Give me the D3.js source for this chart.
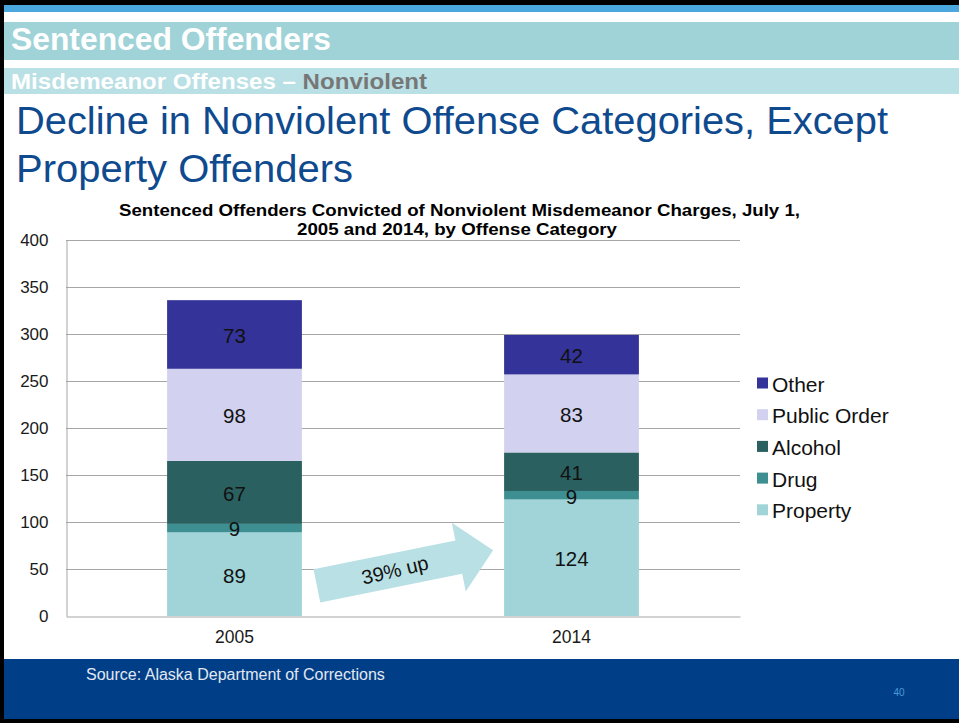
<!DOCTYPE html>
<html><head><meta charset="utf-8">
<script src="https://cdn.jsdelivr.net/npm/d3@7"></script>
<style>
html,body{margin:0;padding:0;background:#fff;}
svg{display:block;font-family:"Liberation Sans",Arial,sans-serif;}
</style></head>
<body>
<svg id="c" width="959" height="723"></svg>
<script>
const years = ["2005", "2014"];
const categories = ["Property", "Drug", "Alcohol", "Public Order", "Other"];
const property = [89, 124];
const drug = [9, 9];
const alcohol = [67, 41];
const publicOrder = [98, 83];
const other = [73, 42];
const yTicks = [0, 50, 100, 150, 200, 250, 300, 350, 400];
const colors = ["#a0d4d8", "#3d8f91", "#2a6060", "#d2d2f0", "#333399"];
const series = [property, drug, alcohol, publicOrder, other];

const svg = d3.select("#c");

// Slide decoration
svg.append("rect").attr("x",0).attr("y",0).attr("width",959).attr("height",723).attr("fill","#fff");
svg.append("rect").attr("x",0).attr("y",0).attr("width",959).attr("height",5).attr("fill","#000");
svg.append("rect").attr("x",0).attr("y",5).attr("width",959).attr("height",7).attr("fill","#4aa8df");
svg.append("rect").attr("x",0).attr("y",22).attr("width",959).attr("height",38).attr("fill","#9fd3d8");
svg.append("rect").attr("x",0).attr("y",68).attr("width",959).attr("height",26).attr("fill","#b9e0e4");
svg.append("rect").attr("x",0).attr("y",659).attr("width",959).attr("height",61).attr("fill","#003f87");
svg.append("rect").attr("x",0).attr("y",719).attr("width",959).attr("height",4).attr("fill","#000");
svg.append("rect").attr("x",0).attr("y",0).attr("width",4).attr("height",723).attr("fill","#000");

svg.append("text").attr("x",11).attr("y",50).attr("fill","#fff")
  .attr("font-weight","bold").attr("font-size",31).attr("textLength",320).attr("lengthAdjust","spacingAndGlyphs")
  .text("Sentenced Offenders");
const sub = svg.append("text").attr("x",11).attr("y",89).attr("font-weight","bold").attr("font-size",22)
  .attr("textLength",416).attr("lengthAdjust","spacingAndGlyphs");
sub.append("tspan").attr("fill","#fff").text("Misdemeanor Offenses – ");
sub.append("tspan").attr("fill","#777").text("Nonviolent");

svg.append("text").attr("x",16).attr("y",134).attr("fill","#0f4a8e").attr("font-size",38)
  .attr("textLength",872).attr("lengthAdjust","spacingAndGlyphs")
  .text("Decline in Nonviolent Offense Categories, Except");
svg.append("text").attr("x",16).attr("y",182).attr("fill","#0f4a8e").attr("font-size",38)
  .attr("textLength",337).attr("lengthAdjust","spacingAndGlyphs")
  .text("Property Offenders");

svg.append("text").attr("x",119).attr("y",215.5).attr("font-weight","bold")
  .attr("font-size",16.5).attr("fill","#000").attr("textLength",681).attr("lengthAdjust","spacingAndGlyphs")
  .text("Sentenced Offenders Convicted of Nonviolent Misdemeanor Charges, July 1,");
svg.append("text").attr("x",297).attr("y",234.5).attr("font-weight","bold")
  .attr("font-size",16.5).attr("fill","#000").attr("textLength",320).attr("lengthAdjust","spacingAndGlyphs")
  .text("2005 and 2014, by Offense Category");

// Chart
const plot = {left:66, right:740, top:240, bottom:616};
const x = d3.scaleBand().domain(years).range([plot.left, plot.right]).padding(0);
const barW = x.bandwidth() * 0.4;
const y = d3.scaleLinear().domain([0, 400]).range([plot.bottom, plot.top]);

const g = svg.append("g");
g.selectAll("line.grid").data(yTicks.filter(d => d > 0)).enter().append("line")
  .attr("x1", plot.left).attr("x2", plot.right)
  .attr("y1", d => y(d) + 0.5).attr("y2", d => y(d) + 0.5)
  .attr("stroke", "#a6a6a6").attr("stroke-width", 1);

const yAxis = g.append("g").attr("transform", `translate(${plot.left + 0.5},0)`)
  .call(d3.axisLeft(y).tickValues(yTicks).tickSize(0).tickPadding(18));
yAxis.select(".domain").attr("stroke", "#a6a6a6");
yAxis.selectAll("text").attr("font-size", 17).attr("fill", "#1a1a1a")
  .attr("font-family", "'Liberation Sans',Arial,sans-serif");

const stacked = d3.stack().keys(d3.range(categories.length))
  (years.map((yr, i) => { const o = {}; series.forEach((s, k) => o[k] = s[i]); return o; }));

stacked.forEach((layer, k) => {
  layer.forEach((seg, i) => {
    const cx = x(years[i]) + x.bandwidth() / 2;
    g.append("rect").attr("x", cx - barW / 2).attr("width", barW)
      .attr("y", y(seg[1])).attr("height", y(seg[0]) - y(seg[1]))
      .attr("fill", colors[k]);
  });
});
stacked.forEach((layer, k) => {
  layer.forEach((seg, i) => {
    const cx = x(years[i]) + x.bandwidth() / 2;
    g.append("text").attr("x", cx).attr("y", (y(seg[0]) + y(seg[1])) / 2 + 1)
      .attr("dy", "0.36em").attr("text-anchor", "middle").attr("font-size", 20.5)
      .attr("fill", "#111").text(series[k][i]);
  });
});

const xAxis = g.append("g").attr("transform", `translate(0,${plot.bottom + 0.5})`)
  .call(d3.axisBottom(x).tickSize(0).tickPadding(14));
xAxis.select(".domain").attr("stroke", "#a6a6a6");
xAxis.selectAll("text").attr("font-size", 17.5).attr("fill", "#1a1a1a")
  .attr("font-family", "'Liberation Sans',Arial,sans-serif");

// Arrow annotation
const tail = [x("2005") + x.bandwidth() / 2 + barW / 2 + 15, y(32)];
const tip = [x("2014") + x.bandwidth() / 2 - barW / 2 - 11, y(70)];
const ang = Math.atan2(tip[1] - tail[1], tip[0] - tail[0]) * 180 / Math.PI;
const L = Math.hypot(tip[0] - tail[0], tip[1] - tail[1]);
const hw = 17, hh = 35, hl = 35;
const arrowPts = [[0,-hw],[L-hl,-hw],[L-hl,-hh],[L,0],[L-hl,hh],[L-hl,hw],[0,hw]];
const ag = svg.append("g").attr("transform", `translate(${tail[0]},${tail[1]}) rotate(${ang})`);
ag.append("polygon").attr("points", arrowPts.map(p => p.join(",")).join(" ")).attr("fill", "#b9e0e4");
ag.append("text").attr("x", (L - hl) * 0.55).attr("y", 0).attr("dy", "0.35em")
  .attr("text-anchor", "middle").attr("font-size", 20).attr("fill", "#111")
  .attr("transform", `rotate(-2 ${(L - hl) * 0.55} 0)`).text("39% up");

// Legend
const legendOrder = [4, 3, 2, 1, 0];
const lg = svg.append("g");
legendOrder.forEach((k, j) => {
  const cy = 383 + j * 31.7;
  lg.append("rect").attr("x", 757).attr("y", cy - 5.5).attr("width", 11).attr("height", 11).attr("fill", colors[k]);
  lg.append("text").attr("x", 772).attr("y", cy + 1).attr("dy", "0.36em").attr("font-size", 21)
    .attr("fill", "#111").text(categories[k]);
});

// Footer
svg.append("text").attr("x", 86).attr("y", 680).attr("font-size", 16).attr("fill", "#e3e8f2")
  .text("Source: Alaska Department of Corrections");
svg.append("text").attr("x", 899).attr("y", 696).attr("text-anchor", "middle").attr("font-size", 10)
  .attr("fill", "#4a9ad8").text("40");
</script>
</body></html>
